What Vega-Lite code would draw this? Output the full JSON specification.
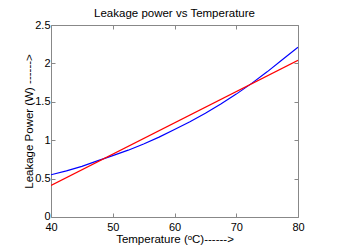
{
  "$schema": "https://vega.github.io/schema/vega-lite/v6.json",
  "autosize": "none",
  "width": 247,
  "height": 192,
  "padding": {"left": 51, "top": 25, "right": 42, "bottom": 35},
  "background": "white",
  "config": {
    "font": "Liberation Sans",
    "view": {"stroke": null},
    "axis": {"grid": false, "domainColor": "#888", "tickColor": "#888", "labelColor": "#000", "titleColor": "#000", "labelFontSize": 11, "titleFontSize": 11.5, "titleFontWeight": "normal", "labelFont": "Liberation Sans", "titleFont": "Liberation Sans", "labelFlush": false, "labelOverlap": false}
  },
  "title": {"text": "Leakage power vs Temperature", "fontSize": 11.5, "fontWeight": "normal", "font": "Liberation Sans", "color": "#000", "offset": 0},
  "data": {"values": [
    {"t": 40, "p": 0.55, "s": "model"},
    {"t": 42.5, "p": 0.60, "s": "model"},
    {"t": 45, "p": 0.66, "s": "model"},
    {"t": 47.5, "p": 0.73, "s": "model"},
    {"t": 50, "p": 0.80, "s": "model"},
    {"t": 52.5, "p": 0.87, "s": "model"},
    {"t": 55, "p": 0.95, "s": "model"},
    {"t": 57.5, "p": 1.04, "s": "model"},
    {"t": 60, "p": 1.14, "s": "model"},
    {"t": 62.5, "p": 1.24, "s": "model"},
    {"t": 65, "p": 1.35, "s": "model"},
    {"t": 67.5, "p": 1.47, "s": "model"},
    {"t": 70, "p": 1.60, "s": "model"},
    {"t": 72.5, "p": 1.74, "s": "model"},
    {"t": 75, "p": 1.89, "s": "model"},
    {"t": 77.5, "p": 2.05, "s": "model"},
    {"t": 80, "p": 2.21, "s": "model"},
    {"t": 40, "p": 0.41, "s": "linear"},
    {"t": 80, "p": 2.04, "s": "linear"}
  ]},
  "layer": [
    {
      "mark": {"type": "line", "strokeWidth": 1.2, "clip": true},
      "encoding": {
        "x": {"field": "t", "type": "quantitative", "scale": {"domain": [40, 80], "nice": false, "zero": false},
              "axis": {"values": [40, 50, 60, 70, 80], "tickSize": -4, "labelPadding": 8, "title": "Temperature (ᵒC)------>", "titlePadding": 1}},
        "y": {"field": "p", "type": "quantitative", "scale": {"domain": [0, 2.5], "nice": false},
              "axis": {"values": [0, 0.5, 1, 1.5, 2, 2.5], "format": ".1~f", "tickSize": -4, "labelPadding": 5, "labelOffset": {"condition": {"test": "datum.value == 0", "value": -1}, "value": 0}, "title": "Leakage Power (W) ------>", "titlePadding": 0}},
        "color": {"field": "s", "type": "nominal", "scale": {"domain": ["model", "linear"], "range": ["#0000ff", "#ff0000"]}, "legend": null},
        "detail": {"field": "s"}
      }
    },
    {
      "mark": {"type": "line", "opacity": 0},
      "encoding": {
        "x": {"field": "t", "type": "quantitative", "axis": {"orient": "top", "values": [40, 50, 60, 70, 80], "tickSize": -4, "labels": false, "title": null}},
        "y": {"field": "p", "type": "quantitative", "axis": {"orient": "right", "values": [0, 0.5, 1, 1.5, 2, 2.5], "tickSize": -4, "labels": false, "title": null}},
        "detail": {"field": "s"}
      }
    }
  ],
  "resolve": {"axis": {"x": "independent", "y": "independent"}}
}
